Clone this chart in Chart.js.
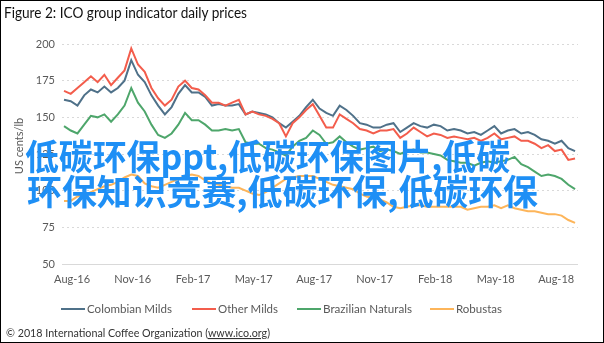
<!DOCTYPE html>
<html>
<head>
<meta charset="utf-8">
<script src="https://cdn.jsdelivr.net/npm/chart.js@4.4.1/dist/chart.umd.min.js"></script>
<style>
  html, body { margin: 0; padding: 0; background: #fff; }
  #wrap { position: relative; width: 604px; height: 343px; overflow: hidden; background: #fff; }
  #chartBox { position: absolute; left: 0; top: 0; width: 604px; height: 343px; }
  #overlay { position: absolute; left: 0; top: 0; pointer-events: none; }
  #frame { position: absolute; left: 0; top: 0; width: 604px; height: 343px; box-sizing: border-box; border: 1px solid #000; pointer-events: none; }
</style>
</head>
<body>
<div id="wrap">
  <div id="chartBox"><canvas id="c"></canvas></div>
  <svg id="overlay" width="604" height="343" xmlns="http://www.w3.org/2000/svg"></svg>
  <div id="frame"></div>
</div>
<script>
// ---- data (US cents/lb), one value roughly every 10 days, Jul-2016 .. Aug-2018 ----
const seriesNames = ['Colombian Milds', 'Other Milds', 'Brazilian Naturals', 'Robustas'];
const tickMonths = [0, 3, 6, 9, 12, 15, 18, 21, 24];
const tickLabels = ['Aug-16', 'Nov-16', 'Feb-17', 'May-17', 'Aug-17', 'Nov-17', 'Feb-18', 'May-18', 'Aug-18'];
const yTicks = [50, 75, 100, 125, 150, 175, 200];
const firstMonth = -0.4;          // months from 1 Aug 2016 of first sample
const monthStep = 1 / 3;          // sample spacing in months

const colombianMilds = [162,161,158,165,169,167,171,167,170,175,
  189,179,174,165,158,152,157,166,172,167,
  167,164,158,159,158,158,159,152,154,153,
  152,150,146,143,147,151,157,162,156,153,
  151,158,155,151,146,145,143,143,145,146,
  140,143,146,144,143,145,144,141,142,141,
  139,140,138,141,144,139,141,142,139,140,
  138,135,134,132,134,129,127];
const otherMilds = [168,166,170,174,178,174,179,172,177,182,
  197,186,181,170,163,158,162,171,175,170,
  169,165,160,160,158,160,162,152,154,152,
  151,149,146,137,146,150,155,159,151,143,
  143,152,149,146,142,141,139,141,141,142,
  136,139,143,140,137,139,138,136,137,136,
  135,136,134,136,139,135,136,137,134,134,
  132,129,131,127,128,121,122];
const brazilianNaturals = [144,141,139,145,151,150,152,147,152,158,
  170,160,154,145,138,136,139,145,153,148,
  148,145,141,141,142,141,142,133,132,132,
  129,128,126,124,130,134,136,141,138,132,
  133,137,133,130,128,129,130,127,128,127,
  125,127,128,126,126,125,124,121,120,119,
  119,117,119,120,119,120,121,123,118,116,
  113,110,111,110,108,104,101];
const robustas = [93,93,96,97,99,101,103,104,106,109,
  111,110,105,103,102,104,106,108,110,111,
  110,107,105,104,103,102,102,100,98,97,
  99,102,105,108,109,110,110,110,108,106,
  104,103,102,101,98,96,95,94,92,89,
  88,89,90,90,89,89,89,89,89,89,
  87,88,89,89,90,88,90,88,87,86,
  86,85,84,84,83,80,78];

// ---- styles ----
const seriesColors = ['#4f7189', '#f35d4c', '#4ea66b', '#fdb55a'];
const textGrey = '#595959';
const watermarkLines = ['低碳环保ppt,低碳环保图片,低碳', '环保知识竞赛,低碳环保,低碳环保'];

const seriesValues = [colombianMilds, otherMilds, brazilianNaturals, robustas];
function toPoints(vals) { return vals.map((v, i) => ({ x: firstMonth + i * monthStep, y: v })); }

Chart.defaults.font.family = 'Lato, "Open Sans", sans-serif';
Chart.defaults.font.size = 11;
Chart.defaults.color = textGrey;

new Chart(document.getElementById('c'), {
  type: 'line',
  data: {
    datasets: seriesNames.map((name, i) => ({
      label: name,
      data: toPoints(seriesValues[i]),
      borderColor: seriesColors[i],
      backgroundColor: seriesColors[i],
      borderWidth: 2,
      pointRadius: 0,
      tension: 0,
      order: seriesNames.length - i
    }))
  },
  options: {
    responsive: true,
    maintainAspectRatio: false,
    animation: false,
    events: [],
    layout: { padding: { top: 44, right: 26, bottom: 0, left: 0 } },
    plugins: { legend: { display: false }, title: { display: false }, tooltip: { enabled: false } },
    scales: {
      x: {
        type: 'linear',
        min: -0.5,
        max: 25.08,
        grid: { display: false, drawTicks: false },
        border: { display: false },
        afterFit: s => { s.height = 79; },
        afterBuildTicks: s => { s.ticks = tickMonths.map(v => ({ value: v })); },
        ticks: {
          autoSkip: false, maxRotation: 0, padding: 9, color: textGrey,
          callback: v => tickLabels[tickMonths.indexOf(v)]
        }
      },
      y: {
        min: 50,
        max: 200,
        afterFit: s => { s.width = 62; },
        afterBuildTicks: s => { s.ticks = yTicks.map(v => ({ value: v })); },
        grid: { color: '#d9d9d9', lineWidth: 1, drawTicks: false },
        border: { display: false, dash: ctx => (ctx.tick && ctx.tick.value === 50) ? [] : [2, 3] },
        ticks: { padding: 7, color: textGrey }
      }
    }
  }
});

// ---- overlay texts (title, axis title, legend, footer, watermark) ----
const NS = 'http://www.w3.org/2000/svg';
const svg = document.getElementById('overlay');
function el(tag, attrs, text) {
  const e = document.createElementNS(NS, tag);
  for (const k in attrs) e.setAttribute(k, attrs[k]);
  if (text !== undefined) e.textContent = text;
  svg.appendChild(e);
  return e;
}
const fam = 'Lato, "Open Sans", sans-serif';
el('text', { x: 4, y: 18, 'font-family': fam, 'font-size': 14.5, fill: '#111', textLength: 243, lengthAdjust: 'spacingAndGlyphs' }, 'Figure 2: ICO group indicator daily prices');
el('text', { x: 0, y: 0, 'font-family': fam, 'font-size': 11, fill: textGrey, 'text-anchor': 'middle',
  transform: 'translate(23,146) rotate(-90)' }, 'US cents/lb');

const legendLayout = [[61, 85, 87, 85], [192, 216, 218, 60], [297, 321, 323, 89], [430, 454, 456, 46]];
seriesNames.forEach((name, i) => {
  const [x1, x2, tx, tl] = legendLayout[i];
  el('line', { x1, x2, y1: 309, y2: 309, stroke: seriesColors[i], 'stroke-width': 2 });
  el('text', { x: tx, y: 313, 'font-family': fam, 'font-size': 11.5, fill: textGrey, textLength: tl, lengthAdjust: 'spacingAndGlyphs' }, name);
});

const foot = el('text', { x: 6, y: 337, 'font-family': fam, 'font-size': 11, fill: '#333', textLength: 264, lengthAdjust: 'spacingAndGlyphs' });
const t1 = document.createElementNS(NS, 'tspan'); t1.textContent = '© 2018 International Coffee Organization ('; foot.appendChild(t1);
const t2 = document.createElementNS(NS, 'tspan'); t2.textContent = 'www.ico.org'; t2.setAttribute('text-decoration', 'underline'); foot.appendChild(t2);
const t3 = document.createElementNS(NS, 'tspan'); t3.textContent = ')'; foot.appendChild(t3);

const wmFam = '"Noto Sans CJK SC", sans-serif';
el('text', { x: 25, y: 170, 'font-family': wmFam, 'font-size': 35, 'font-weight': 'bold', fill: '#1e8ff5', textLength: 485, lengthAdjust: 'spacingAndGlyphs' }, watermarkLines[0]);
el('text', { x: 27, y: 205, 'font-family': wmFam, 'font-size': 35, 'font-weight': 'bold', fill: '#1e8ff5', textLength: 511, lengthAdjust: 'spacingAndGlyphs' }, watermarkLines[1]);
</script>
</body>
</html>
